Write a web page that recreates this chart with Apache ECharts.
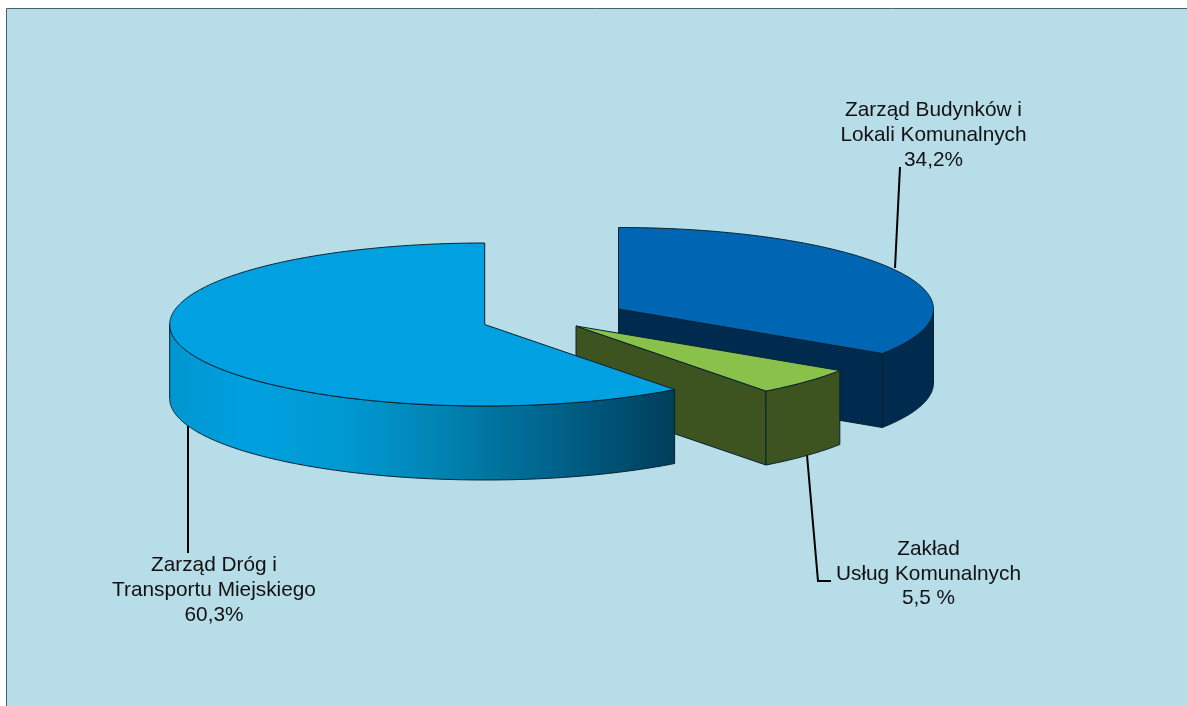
<!DOCTYPE html>
<html>
<head>
<meta charset="utf-8">
<style>html,body{margin:0;padding:0;background:#fff;overflow:hidden}#c{width:1187px;height:706px}</style>
<script src="https://cdn.jsdelivr.net/npm/echarts@6/dist/echarts.min.js"></script>
</head>
<body>
<div id="c"></div>
<script>
// Values, in drawing order, clockwise from 12 o'clock
const categories = ['Zarząd Budynków i\nLokali Komunalnych', 'Zakład\nUsług Komunalnych', 'Zarząd Dróg i\nTransportu Miejskiego'];
const shares = [34.2, 5.5, 60.3];
const shareTexts = ['34,2%', '5,5 %', '60,3%'];

// Layout and styling
const RX = 315, RY = 81.5, DEPTH = 74;
const centres = [[618.5, 309], [576, 326], [484.7, 324.5]];
const topColors = ['#0066b3', '#89c14a', '#00a0e1'];
const sideColors = ['#002b4e', '#3d5421', null];
const edgeColor = '#06222f';
const wallGradient = {
  type: 'linear', x: 170, y: 0, x2: 673, y2: 0, global: true,
  colorStops: [
    { offset: 0, color: '#0096cf' }, { offset: 0.16, color: '#00a0e0' },
    { offset: 0.36, color: '#0098d0' }, { offset: 0.56, color: '#0080ae' },
    { offset: 0.78, color: '#006088' }, { offset: 1, color: '#003f5b' }
  ]
};
const leaders = [
  [[895, 268], [900, 167]],
  [[807, 455], [818, 581], [831, 581]],
  [[188, 423], [188, 553]]
];
const labelAnchors = [[933.5, 110.5], [928.5, 549], [214, 565.5]];
const LINE_H = 24.8;

const total = shares.reduce((a, b) => a + b, 0);

function pt(c, deg, dz) {
  const r = deg * Math.PI / 180;
  return [c[0] + RX * Math.sin(r), c[1] - RY * Math.cos(r) + (dz || 0)];
}
function arc(c, a0, a1, dz) {
  const out = [], n = Math.max(2, Math.ceil(Math.abs(a1 - a0) * 2));
  for (let i = 0; i <= n; i++) out.push(pt(c, a0 + (a1 - a0) * i / n, dz));
  return out;
}
function poly(points, fill) {
  return { type: 'polygon', shape: { points }, style: { fill, stroke: edgeColor, lineWidth: 1, lineJoin: 'round' } };
}

const option = {
  animation: false,
  graphic: [{
    type: 'rect', z: -10, silent: true,
    shape: { x: 6.5, y: 8.5, width: 1300, height: 800 },
    style: { fill: '#b7dde8', stroke: '#4b6069', lineWidth: 1 }
  }],
  series: [{
    type: 'custom',
    coordinateSystem: 'none',
    clip: false,
    silent: true,
    data: shares.map((v, i) => ({ value: [v], name: categories[i] })),
    renderItem(params, api) {
      const i = params.dataIndex, c = centres[i];
      let before = 0;
      for (let k = 0; k < i; k++) before += shares[k];
      const a0 = before / total * 360;
      const a1 = (before + api.value(0)) / total * 360;
      const kids = [];
      const side = sideColors[i] || wallGradient;

      // leader goes behind the slice
      kids.push({ type: 'polyline', shape: { points: leaders[i] }, style: { fill: 'none', stroke: '#000', lineWidth: 2 } });

      // cut face at the clockwise end, when it turns towards the viewer
      if (a1 < 150) {
        const e = pt(c, a1);
        kids.push(poly([[c[0], c[1]], e, [e[0], e[1] + DEPTH], [c[0], c[1] + DEPTH]], side));
      }
      // outer wall: only the near half of the ellipse shows
      const w0 = Math.max(a0, 90), w1 = Math.min(a1, 270);
      if (w1 > w0) {
        kids.push(poly(arc(c, w0, w1, 0).concat(arc(c, w1, w0, DEPTH)), side));
      }
      // top face
      kids.push(poly([[c[0], c[1]]].concat(arc(c, a0, a1, 0)), topColors[i]));

      // label
      const lines = categories[i].split('\n').concat(shareTexts[i]);
      lines.forEach((t, li) => {
        kids.push({
          type: 'text',
          style: {
            text: t, x: labelAnchors[i][0], y: labelAnchors[i][1] + li * LINE_H,
            fill: '#111', font: '20.8px "Liberation Sans", Arial, sans-serif',
            align: 'center', verticalAlign: 'middle'
          }
        });
      });
      return { type: 'group', children: kids };
    }
  }]
};
echarts.init(document.getElementById('c'), null, { renderer: 'canvas' }).setOption(option);
</script>
</body>
</html>
